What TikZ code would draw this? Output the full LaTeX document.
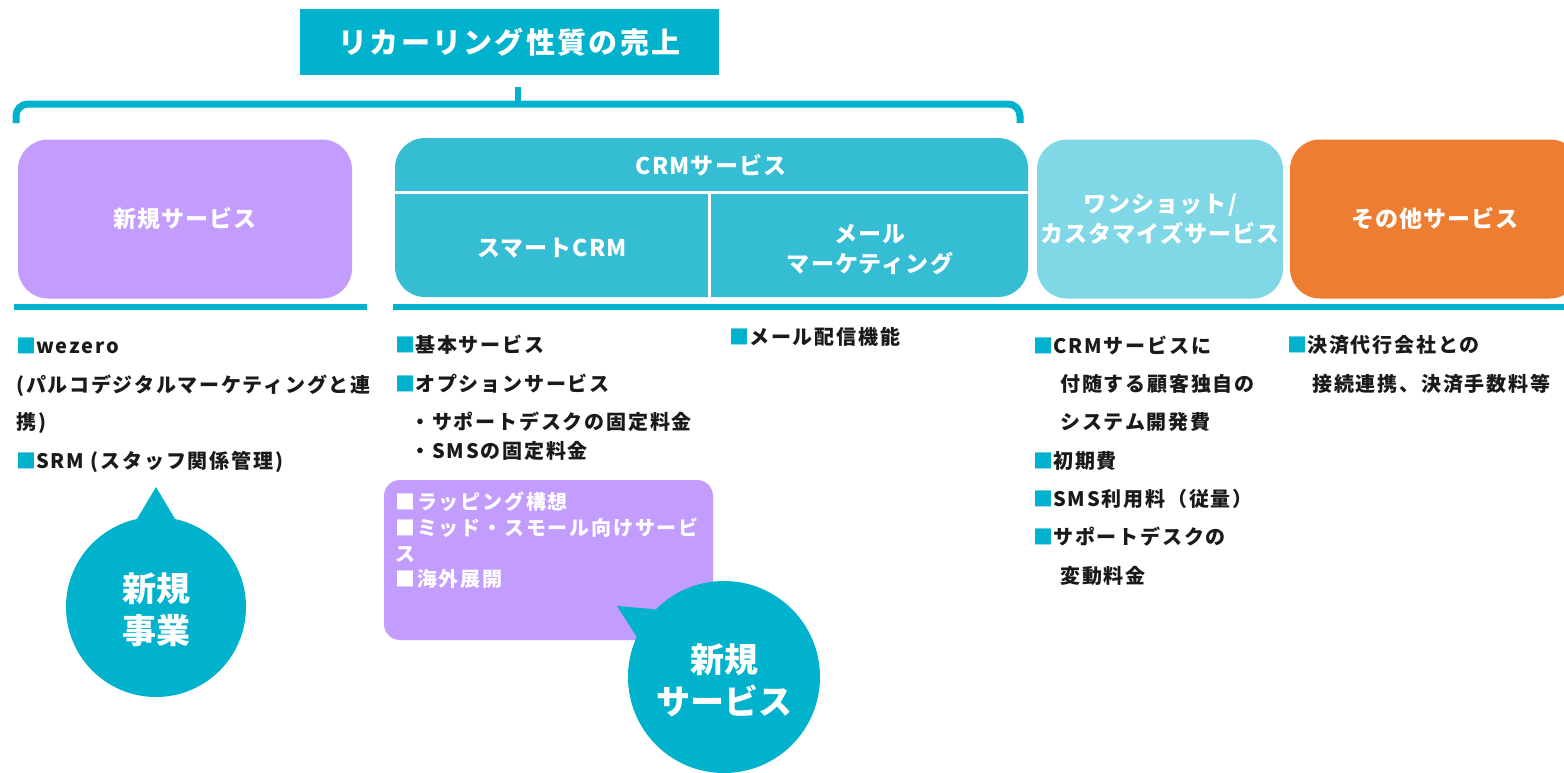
\documentclass[tikz,border=0pt]{standalone}
\usepackage{fontspec}
\setmainfont{Noto Sans CJK JP}
\definecolor{teal1}{HTML}{00B2CC}
\definecolor{crm}{HTML}{35BDD4}
\definecolor{lightc}{HTML}{80D8E6}
\definecolor{purp}{HTML}{C39DFD}
\definecolor{orng}{HTML}{ED7D31}
\definecolor{ink}{HTML}{1A1A1A}
\newcommand{\sqb}{\textcolor{teal1}{■}}
\tikzset{
  body/.style={anchor=west, inner sep=0pt, text=ink, font=\bfseries\fontsize{10}{12}\selectfont\addfontfeature{LetterSpace=9}},
  wbody/.style={anchor=west, inner sep=0pt, text=white, font=\bfseries\fontsize{10}{12}\selectfont\addfontfeature{LetterSpace=9}},
  head/.style={text=white, font=\bfseries\fontsize{11.5}{15}\selectfont\addfontfeature{LetterSpace=5}, align=center},
  bubtext/.style={text=white, font=\bfseries\fontsize{17}{21}\selectfont, align=center},
  catbox/.style={rounded corners=15pt, minimum height=79.5pt, inner sep=0pt},
}
\begin{document}
\begin{tikzpicture}[x=0.5pt,y=-0.5pt]
\clip (0,0) rectangle (1564,772);
\fill[white] (0,0) rectangle (1564,772);
% title
\node[fill=teal1, minimum width=209.5pt, minimum height=33pt, inner sep=0pt, text=white,
  font=\bfseries\fontsize{14.5}{16}\selectfont\addfontfeature{LetterSpace=8}] (title) at (509.5,42) {リカーリング性質の売上};
% bracket
\draw[teal1, line width=3.5pt, rounded corners=6pt] (16,123) -- (16,104) -- (1020,104) -- (1020,123);
\draw[teal1, line width=3pt] (518,106) -- (518,87);
% category boxes
\node[catbox, fill=purp, minimum width=167pt, head] (newsvc) at (185,219) {新規サービス};
\node[catbox, fill=crm, minimum width=316.5pt] (crmbox) at (711.5,217.5) {};
\draw[white, line width=1.5pt] (395,192) -- (1028,192);
\draw[white, line width=1.5pt] (709,192) -- (709,297);
\node[head] (crmh) at (711,165) {CRMサービス};
\node[head] (smart) at (552,248) {スマートCRM};
\node[head] (mail) at (870,249) {メール\\マーケティング};
\node[catbox, fill=lightc, minimum width=123pt, head] (oneshot) at (1160,219) {ワンショット/\\カスタマイズサービス};
\node[catbox, fill=orng, minimum width=145pt, head, text width=137pt] (other) at (1435,219) {その他サービス};
% underlines
\draw[teal1, line width=3pt] (14,307) -- (367,307);
\draw[teal1, line width=3pt] (393,307) -- (1564,307);
% column 1
\node[body] (a1) at (16,346) {\sqb wezero};
\node[body] (a2) at (16,386) {(パルコデジタルマーケティングと連};
\node[body] (a3) at (16,423) {携)};
\node[body] (a4) at (16,462) {\sqb SRM (スタッフ関係管理)};
% column 2
\node[body] (b1) at (395,345) {\sqb 基本サービス};
\node[body] (b2) at (395,384) {\sqb オプションサービス};
\node[body] (b3) at (410,422) {・サポートデスクの固定料金};
\node[body] (b4) at (410,451) {・SMSの固定料金};
% column 3
\node[body] (c1) at (729,337) {\sqb メール配信機能};
% column 4
\node[body] (d1) at (1033,345) {\sqb CRMサービスに};
\node[body] (d2) at (1060,384) {付随する顧客独自の};
\node[body] (d3) at (1060,422) {システム開発費};
\node[body] (d4) at (1033,461) {\sqb 初期費};
\node[body] (d5) at (1033,499) {\sqb SMS利用料（従量）};
\node[body] (d6) at (1033,537) {\sqb サポートデスクの};
\node[body] (d7) at (1060,576) {変動料金};
% column 5
\node[body] (e1) at (1287,345) {\sqb 決済代行会社との};
\node[body] (e2) at (1312,384) {接続連携、決済手数料等};
% purple box
\node[fill=purp, rounded corners=8pt, minimum width=164.5pt, minimum height=80pt, inner sep=0pt] (pbox) at (548.5,560) {};
\node[wbody] (p1) at (395,502) {■ラッピング構想};
\node[wbody] (p2) at (395,528) {■ミッド・スモール向けサービ};
\node[wbody] (p3) at (395,554) {ス};
\node[wbody] (p4) at (395,579) {■海外展開};
% bubble 1
\fill[teal1] (156,607) circle[radius=45pt];
\fill[teal1] (156,487) -- (178,524) -- (134,524) -- cycle;
\node[bubtext] (bub1) at (156,610) {新規\\事業};
% bubble 2
\fill[teal1] (724,677) circle[radius=48pt];
\fill[teal1] (617,606) -- (664,610) -- (640,642) -- cycle;
\node[bubtext] (bub2) at (724,680) {新規\\サービス};
\end{tikzpicture}
\end{document}
